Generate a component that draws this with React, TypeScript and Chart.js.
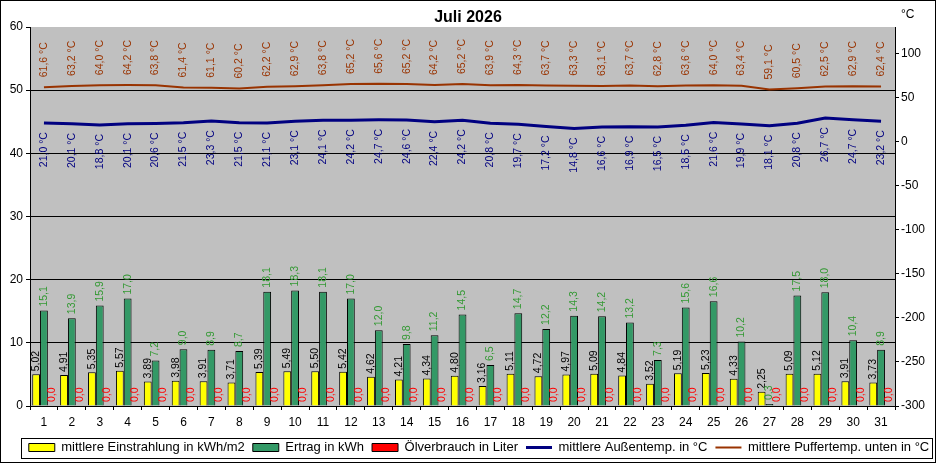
import React, { useEffect, useRef } from "react";
import Chart from "chart.js/auto";

const FONT = "'Liberation Sans', Arial, sans-serif";

const days = [
  "1", "2", "3", "4", "5", "6", "7", "8", "9", "10", "11", "12", "13", "14", "15", "16",
  "17", "18", "19", "20", "21", "22", "23", "24", "25", "26", "27", "28", "29", "30", "31",
];

const einstrahlung = [
  5.02, 4.91, 5.35, 5.57, 3.89, 3.98, 3.91, 3.71, 5.39, 5.49, 5.5, 5.42, 4.62, 4.21, 4.34, 4.8,
  3.16, 5.11, 4.72, 4.97, 5.09, 4.84, 3.52, 5.19, 5.23, 4.33, 2.25, 5.09, 5.12, 3.91, 3.73,
];

const ertrag = [
  15.1, 13.9, 15.9, 17.0, 7.2, 9.0, 8.9, 8.7, 18.1, 18.3, 18.1, 17.0, 12.0, 9.8, 11.2, 14.5,
  6.5, 14.7, 12.2, 14.3, 14.2, 13.2, 7.3, 15.6, 16.6, 10.2, 0.3, 17.5, 18.0, 10.4, 8.9,
];

const oelverbrauch = [
  0, 0, 0, 0, 0, 0, 0, 0, 0, 0, 0, 0, 0, 0, 0, 0,
  0, 0, 0, 0, 0, 0, 0, 0, 0, 0, 0, 0, 0, 0, 0,
];

const aussentemp = [
  21.0, 20.1, 18.8, 20.1, 20.6, 21.5, 23.3, 21.5, 21.1, 23.1, 24.1, 24.2, 24.7, 24.6, 22.4, 24.2,
  20.8, 19.7, 17.2, 14.8, 16.6, 16.9, 16.5, 18.5, 21.6, 19.9, 18.1, 20.8, 26.7, 24.7, 23.2,
];

const puffertemp = [
  61.6, 63.2, 64.0, 64.2, 63.8, 61.4, 61.1, 60.2, 62.2, 62.9, 63.8, 65.2, 65.6, 65.2, 64.2, 65.2,
  63.9, 64.3, 63.7, 63.3, 63.1, 63.7, 62.8, 63.6, 64.0, 63.4, 59.1, 60.5, 62.5, 62.9, 62.4,
];

const leftTicks = { min: 0, max: 60, step: 10 };
const rightTicks = { min: -300, max: 130, step: 50 };

// how the value labels of each dataset look (same order as the datasets)
const labelStyles = [
  { color: "#000000", decimals: 2, suffix: "", below: false, offset: 3 },
  { color: "#339933", decimals: 1, suffix: "", below: false, offset: 4 },
  { color: "#ff0000", decimals: 1, suffix: "", below: false, offset: 4 },
  { color: "#000080", decimals: 1, suffix: " °C", below: true, offset: 9 },
  { color: "#993300", decimals: 1, suffix: " °C", below: false, offset: 10 },
];

const valueLabels = {
  id: "valueLabels",
  afterDatasetsDraw(chart: any) {
    const ctx = chart.ctx;
    chart.data.datasets.forEach((ds: any, i: number) => {
      const st = labelStyles[i];
      const meta = chart.getDatasetMeta(i);
      meta.data.forEach((el: any, j: number) => {
        const text = Number(ds.data[j]).toFixed(st.decimals).replace(".", ",") + st.suffix;
        ctx.save();
        ctx.translate(el.x, el.y);
        ctx.rotate(-Math.PI / 2);
        ctx.font = `10.5px ${FONT}`;
        ctx.fillStyle = st.color;
        ctx.textBaseline = "middle";
        if (st.below) {
          ctx.textAlign = "right";
          ctx.fillText(text, -st.offset, 0);
        } else {
          ctx.textAlign = "left";
          ctx.fillText(text, st.offset, 0);
        }
        ctx.restore();
      });
    });
  },
};

const decor = {
  id: "decor",
  afterLayout(chart: any) {
    // Excel puts the legend a little right of centre and a bit lower
    if (chart.legend) {
      chart.legend.left += 11;
      chart.legend.right += 11;
      chart.legend.top += 3;
      chart.legend.bottom += 3;
    }
  },
  beforeDraw(chart: any) {
    const { ctx, chartArea: a } = chart;
    ctx.save();
    ctx.fillStyle = "#ffffff";
    ctx.fillRect(0, 0, chart.width, chart.height);
    ctx.fillStyle = "#c0c0c0";
    ctx.fillRect(a.left, a.top, a.right - a.left, a.bottom - a.top);
    ctx.restore();
  },
  afterDraw(chart: any) {
    const { ctx, chartArea: a } = chart;
    ctx.save();
    ctx.fillStyle = "#000";
    ctx.textBaseline = "middle";
    ctx.textAlign = "center";
    ctx.font = `bold 16px ${FONT}`;
    ctx.fillText("Juli 2026", chart.width / 2, 18);
    ctx.font = `12px ${FONT}`;
    ctx.textAlign = "left";
    ctx.fillText("°C", a.right + 6, 15);

    // frame round the legend
    const boxes = chart.legend?.legendHitBoxes || [];
    if (boxes.length) {
      const left = Math.min(...boxes.map((b: any) => b.left)) - 8;
      const right = Math.max(...boxes.map((b: any) => b.left + b.width)) + 3;
      const mid = boxes[0].top + boxes[0].height / 2;
      ctx.strokeStyle = "#000";
      ctx.lineWidth = 1;
      ctx.strokeRect(Math.round(left) + 0.5, Math.round(mid - 10) + 0.5, Math.round(right - left), 20);
    }
    ctx.strokeRect(0.5, 0.5, chart.width - 1, chart.height - 1);
    ctx.restore();
  },
};

const App: React.FC = () => {
  const chartRef = useRef<HTMLCanvasElement | null>(null);
  const chartInstance = useRef<Chart | null>(null);

  useEffect(() => {
    if (!chartRef.current) return;
    if (chartInstance.current) chartInstance.current.destroy();

    const barBase = {
      type: "bar" as const,
      yAxisID: "y",
      borderColor: "#000000",
      borderWidth: 1,
      categoryPercentage: 0.84,
      barPercentage: 1.0,
    };

    chartInstance.current = new Chart(chartRef.current, {
      type: "bar",
      data: {
        labels: days,
        datasets: [
          { ...barBase, label: "mittlere Einstrahlung in kWh/m2", data: einstrahlung, backgroundColor: "#ffff00" },
          { ...barBase, label: "Ertrag in kWh", data: ertrag, backgroundColor: "#339966" },
          { ...barBase, label: "Ölverbrauch in Liter", data: oelverbrauch, backgroundColor: "#ff0000" },
          {
            type: "line",
            label: "mittlere Außentemp. in °C",
            data: aussentemp,
            yAxisID: "y1",
            borderColor: "#000080",
            backgroundColor: "#000080",
            borderWidth: 3,
            pointRadius: 0,
            tension: 0,
          },
          {
            type: "line",
            label: "mittlere Puffertemp. unten in °C",
            data: puffertemp,
            yAxisID: "y1",
            borderColor: "#993300",
            backgroundColor: "#993300",
            borderWidth: 2,
            pointRadius: 0,
            tension: 0,
          },
        ] as any,
      },
      options: {
        responsive: false,
        animation: false,
        layout: { padding: { top: 27, left: 0, right: 0, bottom: 2 } },
        scales: {
          x: {
            grid: {
              offset: true,
              drawOnChartArea: false,
              drawTicks: true,
              tickLength: 4,
              color: "#000",
            },
            border: { color: "#000" },
            ticks: {
              color: "#000",
              font: { family: FONT, size: 12 },
              padding: 5,
              maxRotation: 0,
              autoSkip: false,
            },
            afterFit: (s: any) => {
              s.height = 24;
            },
          },
          y: {
            position: "left",
            min: leftTicks.min,
            max: leftTicks.max,
            ticks: {
              stepSize: leftTicks.step,
              color: "#000",
              font: { family: FONT, size: 12 },
              padding: 3,
            },
            grid: {
              color: (c: any) => (c.tick && c.tick.value === leftTicks.max ? "rgba(0,0,0,0)" : "#000"),
              tickColor: "#000",
              tickLength: 4,
            },
            border: { color: "#000" },
            afterFit: (s: any) => {
              s.width = 30;
            },
          },
          y1: {
            position: "right",
            min: rightTicks.min,
            max: rightTicks.max,
            ticks: {
              stepSize: rightTicks.step,
              includeBounds: false,
              color: "#000",
              font: { family: FONT, size: 12 },
              padding: 2,
            },
            afterBuildTicks: (s: any) => {
              s.ticks = s.ticks.filter((t: any) => t.value % rightTicks.step === 0);
            },
            grid: {
              drawOnChartArea: false,
              color: "#000",
              tickLength: 4,
            },
            border: { color: "#000" },
            afterFit: (s: any) => {
              s.width = 41;
            },
          },
        },
        plugins: {
          title: { display: false },
          tooltip: { enabled: false },
          legend: {
            position: "bottom",
            labels: {
              color: "#000",
              font: { family: FONT, size: 13 },
              usePointStyle: true,
              pointStyleWidth: 26,
              boxHeight: 8,
              padding: 8,
              generateLabels: (chart: any) => {
                const items = Chart.defaults.plugins.legend.labels.generateLabels(chart);
                return items.map((it: any) => {
                  const ds = chart.data.datasets[it.datasetIndex];
                  const isLine = ds.type === "line";
                  return {
                    ...it,
                    pointStyle: isLine ? "line" : "rect",
                    fillStyle: isLine ? ds.borderColor : ds.backgroundColor,
                    strokeStyle: isLine ? ds.borderColor : "#000",
                    lineWidth: isLine ? ds.borderWidth : 1,
                  };
                });
              },
            },
          },
        },
      },
      plugins: [decor, valueLabels],
    });

    return () => {
      if (chartInstance.current) {
        chartInstance.current.destroy();
        chartInstance.current = null;
      }
    };
  }, []);

  return (
    <div style={{ position: "absolute", left: 0, top: 0, width: 936, height: 463, background: "#fff" }}>
      <canvas ref={chartRef} width={936} height={463} />
    </div>
  );
};

export default App;
